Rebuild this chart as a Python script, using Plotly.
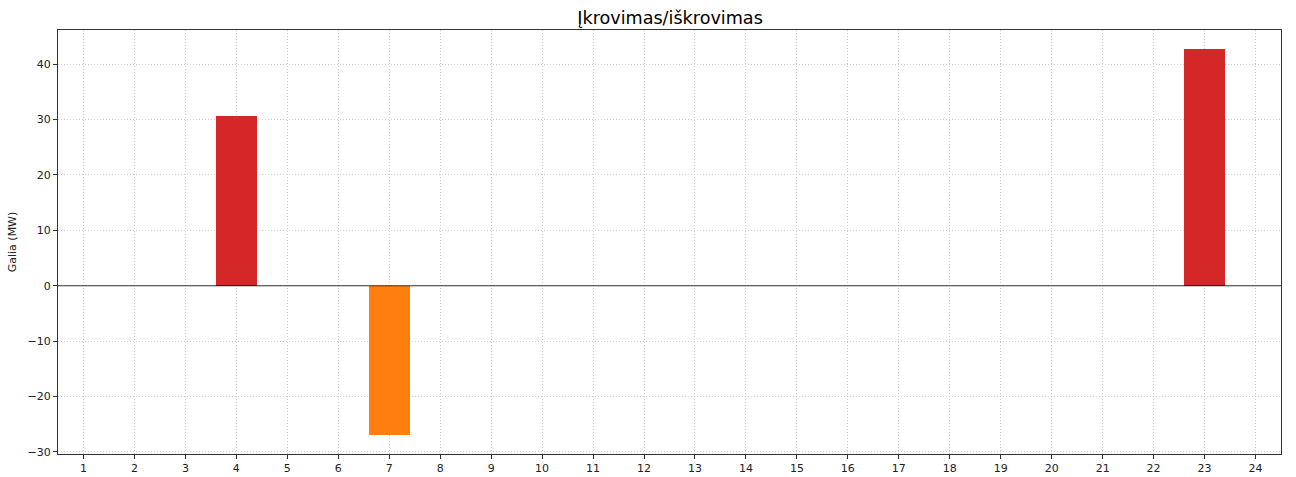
import plotly.graph_objects as go

# Hourly battery power: positive = charging, negative = discharging
hours = list(range(1, 25))
power_mw = [0, 0, 0, 30.6, 0, 0, -26.9, 0, 0, 0, 0, 0,
            0, 0, 0, 0, 0, 0, 0, 0, 0, 0, 42.7, 0]

CHARGE_COLOR = "#d62728"
DISCHARGE_COLOR = "#ff7f0e"
bar_colors = [CHARGE_COLOR if v >= 0 else DISCHARGE_COLOR for v in power_mw]

fig = go.Figure()
fig.add_trace(go.Bar(
    x=hours,
    y=power_mw,
    width=0.8,
    marker=dict(color=bar_colors, line=dict(width=0)),
    showlegend=False,
))

# zero reference line
fig.add_shape(type="line", xref="paper", x0=0, x1=1, yref="y", y0=0, y1=0,
              line=dict(color="black", width=0.8), layer="above")

axis_common = dict(
    showline=True, mirror=True, linecolor="#333333", linewidth=1,
    ticks="outside", ticklen=4, tickcolor="#333333",
    showgrid=True, gridcolor="#cfcfcf", griddash="1px,2px", gridwidth=0.8,
    zeroline=False, automargin=False,
    tickfont=dict(family="DejaVu Sans", size=11, color="#222222"),
)

fig.update_layout(
    width=1296, height=477,
    margin=dict(l=58, r=15, t=30, b=23),
    plot_bgcolor="white", paper_bgcolor="white",
    title=dict(text="Įkrovimas/iškrovimas", x=0.517, xanchor="center",
               y=0.963, yanchor="middle",
               font=dict(family="DejaVu Sans", size=17.6, color="black")),
    xaxis=dict(range=[0.5, 24.5], tickmode="array", tickvals=hours,
               ticktext=[str(h) for h in hours], **axis_common),
    yaxis=dict(range=[-30.38, 46.18], tickmode="array",
               tickvals=[-30, -20, -10, 0, 10, 20, 30, 40],
               ticktext=["\u221230", "\u221220", "\u221210", "0", "10", "20", "30", "40"],
               title=dict(text="Galia (MW)", standoff=8,
                          font=dict(family="DejaVu Sans", size=11, color="#222222")),
               **axis_common),
    bargap=0,
)

fig.write_html("out.html")
